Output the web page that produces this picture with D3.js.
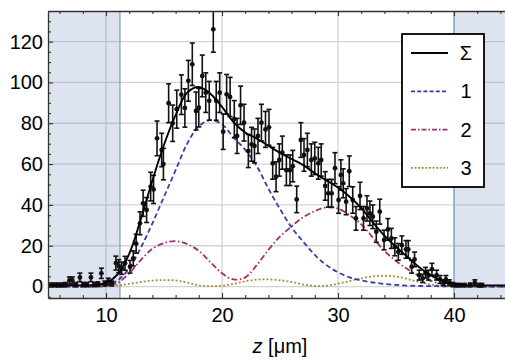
<!DOCTYPE html>
<html><head><meta charset="utf-8">
<script src="https://cdn.jsdelivr.net/npm/d3@7"></script>
<style>body{margin:0;background:#fff}svg{display:block}</style>
</head><body>
<svg id="c" width="505" height="361"></svg>
<script>
// ---- data ----
const zPts = [5.3,5.6,5.9,6.2,6.5,6.85,7.1,7.4,7.75,8.05,8.35,8.7,9.0,9.3,9.6,9.9,10.2,10.5,10.85,11.1,
  11.35,11.64,12.07,12.35,12.6,12.93,13.2,13.5,13.85,14.1,14.4,14.8,14.95,15.4,15.75,16.1,16.5,16.8,17.1,17.44,
  17.76,18.0,18.3,18.6,18.9,19.25,19.5,19.8,20.1,20.4,20.7,21.06,21.3,21.6,21.9,22.27,22.55,22.8,23.1,23.4,
  23.75,24.05,24.37,24.66,24.94,25.2,25.55,25.86,26.1,26.44,26.8,27.07,27.36,27.7,28.0,28.3,28.55,28.9,29.16,29.45,
  29.74,30.05,30.25,30.45,30.7,30.97,31.27,31.55,31.9,32.2,32.5,32.75,33.0,33.3,33.6,33.97,34.3,34.6,34.9,35.2,
  35.5,35.86,36.06,36.35,36.6,37.0,37.3,37.55,37.8,38.1,38.5,38.8,39.1,39.3,39.6,39.9,40.2,40.5,40.9,41.4,
  41.8,42.2,42.4];
const counts = [0.8,0.8,0.8,0.8,1.0,3.0,3.0,1.0,4.5,1.0,1.0,4.5,1.0,1.2,6.5,1.5,2.5,1.5,11.5,10,
  9,11.4,9.7,13.8,21,31,40.8,37.5,49,47.6,72.6,66.9,60,89.8,80,86.9,94,87.5,100.8,108.9,
  86,87.6,103.2,95,91,126,91,95,75.9,94.2,92.9,82,73.8,88.8,80.3,66.4,69.7,68.9,73.8,80.3,
  77,78,60.4,53.8,62,65.6,57,57,59,42.7,71.8,64.5,66.9,62,62.8,60.4,62,49.3,45.7,45.7,
  58,42.4,54.7,50.6,41.6,56.5,42.4,33.4,44.4,33.4,38.3,35.9,34.2,26.9,36.7,22.8,28,23.6,19.5,17,
  20.3,18.2,18.2,9.7,13.3,5.6,4,6.8,5.6,8.5,5.6,3.5,1.9,3.5,1.9,1.0,0.7,0.7,0.7,0.8,
  1.9,0.7,0.7];
const errs = [0.9,0.9,0.9,0.9,1.0,1.7,1.7,1.0,2.1,1.0,1.0,2.1,1.0,1.1,2.5,1.2,1.6,1.2,3.4,3.2,
  3.0,3.4,3.1,3.7,4.6,5.6,6.4,6.1,7.0,6.9,8.5,8.2,7.7,9.5,8.9,9.3,9.7,9.4,10.0,10.4,
  9.3,9.4,10.2,9.7,9.5,11.2,9.5,9.7,8.7,9.7,9.6,9.1,8.6,9.4,9.0,8.1,8.3,8.3,8.6,9.0,
  8.8,8.8,7.8,7.3,7.9,8.1,7.5,7.5,7.7,6.5,8.5,8.0,8.2,7.9,7.9,7.8,7.9,7.0,6.8,6.8,
  7.6,6.5,7.4,7.1,6.4,7.5,6.5,5.8,6.7,5.8,6.2,6.0,5.8,5.2,6.1,4.8,5.3,4.9,4.4,4.1,
  4.5,4.3,4.3,3.1,3.6,2.4,2.0,2.6,2.4,2.9,2.4,1.9,1.4,1.9,1.4,1.0,0.8,0.8,0.8,0.9,
  1.4,0.8,0.8];

const curveZ = [5,7,9,10,11,12,13,14,15,16,17,18,19,20,21,22,23,24,25,26,27,28,29,30,31,32,33,34,35,36,37,38,39,40,41,43,45];
const sumFit = [0.6,0.6,0.8,1.8,6,16,33,52,69.5,84,95,97.8,94.5,88,80.5,75.5,72.5,69,65.5,62.5,59.5,55.5,52,48.5,44,38.5,31.5,25,19.5,14.5,9.5,5.5,2.8,1.3,0.7,0.6,0.6];
const comp1 = [0,0.02,0.15,0.6,3,9,19,31,44,57,70,78.5,81.5,79.5,73,67,59,48,38,29,22,15.5,10.5,7,4.5,3,2,1.3,0.8,0.5,0.3,0.2,0.15,0.1,0.05,0.02,0];
const comp2 = [0,0,0.05,0.3,1.8,6.5,13,18.5,21.3,22.3,20.8,17.5,12,6.5,3.5,4.5,10.5,18,24.5,29.5,34,37,38.8,38.2,35,30.5,24,17.5,12.5,8.5,5.2,2.8,1.3,0.5,0.2,0.05,0];
const comp3 = [0,0,0.02,0.1,0.5,1.3,2.2,2.9,3.2,3.0,1.9,0.6,0.2,0.4,1.3,2.6,3.4,3.5,3.1,2.3,1.0,0.3,0.4,1.4,2.7,4.0,5.0,5.3,4.9,3.7,2.2,1.0,0.4,0.1,0.05,0,0];

const excluded = [[5, 11.2], [40, 45]];
const xTicks = [10,20,30,40];
const yTicks = [0,20,40,60,80,100,120];
const legendLabels = ["Σ","1","2","3"];

// ---- layout ----
const svg = d3.select("#c");
const L = 48, R = 512, T = 11, B = 298;
const x = d3.scaleLinear().domain([5,45]).range([L,R]);
const y = d3.scaleLinear().domain([-5.6,135]).range([B,T]);
const font = "'Liberation Sans', Arial, sans-serif";

svg.append("defs").append("clipPath").attr("id","clip")
  .append("rect").attr("x",L).attr("y",T).attr("width",R-L).attr("height",B-T);

// grid
const grid = svg.append("g");
xTicks.forEach(t => grid.append("line").attr("x1",x(t)).attr("x2",x(t)).attr("y1",T).attr("y2",B)
  .attr("stroke","#d4d4d4").attr("stroke-width",1.3));
yTicks.forEach(t => grid.append("line").attr("x1",L).attr("x2",R).attr("y1",y(t)).attr("y2",y(t))
  .attr("stroke","#d4d4d4").attr("stroke-width",1.3));

// shaded regions
const shade = svg.append("g").attr("clip-path","url(#clip)");
excluded.forEach(([a,b]) => {
  shade.append("rect").attr("x",x(a)).attr("y",T).attr("width",x(b)-x(a)).attr("height",B-T+2)
    .attr("fill","rgb(85,115,175)").attr("fill-opacity",0.2);
});
shade.append("line").attr("x1",x(11.2)).attr("x2",x(11.2)).attr("y1",T).attr("y2",B+2)
  .attr("stroke","#86a2c8").attr("stroke-width",1.3);
shade.append("line").attr("x1",x(40)).attr("x2",x(40)).attr("y1",T).attr("y2",B+2)
  .attr("stroke","#86a2c8").attr("stroke-width",1.3);

// curves
const plot = svg.append("g").attr("clip-path","url(#clip)");
const line = d3.line().x((d,i)=>x(curveZ[i])).y(d=>y(d)).curve(d3.curveCatmullRom.alpha(0.5));
const styles = [
  {data: comp3, color:"#a8923a", dash:"2,2"},
  {data: comp2, color:"#a3306e", dash:"6,2.5,1.5,2.5"},
  {data: comp1, color:"#3b3ba8", dash:"5,3"},
];
styles.forEach(s => plot.append("path").attr("d", line(s.data)).attr("fill","none")
  .attr("stroke", s.color).attr("stroke-width",1.8).attr("stroke-dasharray", s.dash));

// data points with error bars
const pts = plot.append("g");
zPts.forEach((z,i) => {
  const cx = x(z), v = counts[i], e = errs[i];
  const g = pts.append("g").attr("stroke","#111").attr("stroke-width",1.6);
  g.append("line").attr("x1",cx).attr("x2",cx).attr("y1",y(v-e)).attr("y2",y(v+e));
  g.append("line").attr("x1",cx-2.5).attr("x2",cx+2.5).attr("y1",y(v-e)).attr("y2",y(v-e));
  g.append("line").attr("x1",cx-2.5).attr("x2",cx+2.5).attr("y1",y(v+e)).attr("y2",y(v+e));
});
pts.selectAll("circle").data(zPts).join("circle")
  .attr("cx",d=>x(d)).attr("cy",(d,i)=>y(counts[i])).attr("r",2.4).attr("fill","#111");

plot.append("path").attr("d", line(sumFit)).attr("fill","none")
  .attr("stroke","#000").attr("stroke-width",1.9);

// axes / frame
const axCol = "#333";
function styleAxis(g){ g.selectAll(".domain").attr("stroke",axCol).attr("stroke-width",1.3);
  g.selectAll(".tick line").attr("stroke",axCol).attr("stroke-width",1.1);
  g.selectAll("text").attr("font-family",font).attr("font-size",20).attr("fill","#000"); }
const minorX = d3.range(6,45,2).filter(v=>v%10!==0);
const minorY = d3.range(-5,136,5).filter(v=>v%20!==0 && v>=-5);

const gb = svg.append("g").attr("transform",`translate(0,${B})`)
  .call(d3.axisBottom(x).tickValues(xTicks).tickSizeInner(-5).tickSizeOuter(0).tickPadding(10));
styleAxis(gb);
gb.selectAll("text").attr("dy","0.71em").attr("y",10);
svg.append("g").attr("transform",`translate(0,${B})`)
  .call(d3.axisBottom(x).tickValues(minorX).tickSizeInner(-3).tickSizeOuter(0).tickFormat(""))
  .call(styleAxis).select(".domain").remove();

const gt = svg.append("g").attr("transform",`translate(0,${T})`)
  .call(d3.axisTop(x).tickValues(xTicks).tickSizeInner(-5).tickSizeOuter(0).tickFormat(""));
styleAxis(gt);
svg.append("g").attr("transform",`translate(0,${T})`)
  .call(d3.axisTop(x).tickValues(minorX).tickSizeInner(-3).tickSizeOuter(0).tickFormat(""))
  .call(styleAxis).select(".domain").remove();

const gl = svg.append("g").attr("transform",`translate(${L},0)`)
  .call(d3.axisLeft(y).tickValues(yTicks).tickSizeInner(-5).tickSizeOuter(0).tickPadding(6));
styleAxis(gl);
gl.selectAll("text").attr("x",-5);
svg.append("g").attr("transform",`translate(${L},0)`)
  .call(d3.axisLeft(y).tickValues(minorY).tickSizeInner(-3).tickSizeOuter(0).tickFormat(""))
  .call(styleAxis).select(".domain").remove();

// x label
const xl = svg.append("text").attr("x",280).attr("y",353).attr("text-anchor","middle")
  .attr("font-family",font).attr("font-size",20).attr("fill","#000");
xl.append("tspan").attr("font-style","italic").text("z");
xl.append("tspan").text(" [μm]");

// legend
const lg = svg.append("g");
lg.append("rect").attr("x",402).attr("y",34).attr("width",82).attr("height",153)
  .attr("fill","#fff").attr("stroke","#000").attr("stroke-width",1.8);
const legStyles = [
  {color:"#000", dash:null, w:1.8},
  {color:"#3b3ba8", dash:"4,2.2", w:1.7},
  {color:"#a3306e", dash:"5,2,1.5,2", w:1.7},
  {color:"#a8923a", dash:"2,1.6", w:1.7},
];
legendLabels.forEach((lab,i) => {
  const cy = 53 + i*38.3;
  const s = legStyles[i];
  const ln = lg.append("line").attr("x1",411).attr("x2",448).attr("y1",cy).attr("y2",cy)
    .attr("stroke",s.color).attr("stroke-width",s.w);
  if (s.dash) ln.attr("stroke-dasharray",s.dash);
  lg.append("text").attr("x",466).attr("y",cy).attr("dy","0.35em").attr("text-anchor","middle")
    .attr("font-family",font).attr("font-size",20).attr("fill","#000").text(lab);
});
</script>
</body></html>
